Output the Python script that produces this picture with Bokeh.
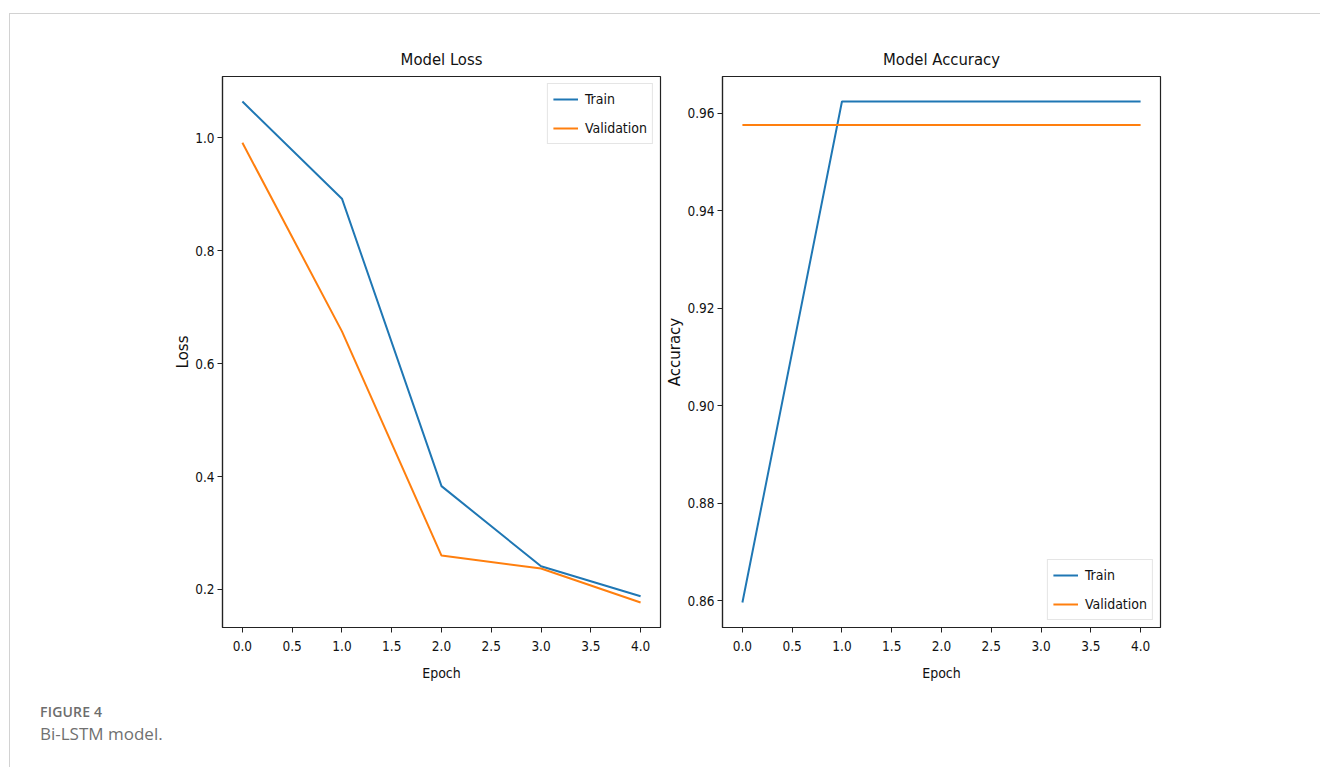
from bokeh.plotting import figure
from bokeh.layouts import row, column
from bokeh.models import Div, Spacer, FixedTicker, NumeralTickFormatter, Legend, LegendItem, Range1d
from bokeh.embed import file_html
from bokeh.resources import INLINE

# ---------------- data ----------------
epochs = [0, 1, 2, 3, 4]
train_loss = [1.064, 0.892, 0.383, 0.241, 0.188]
val_loss = [0.991, 0.657, 0.260, 0.237, 0.177]
train_acc = [0.8596, 0.9624, 0.9624, 0.9624, 0.9624]
val_acc = [0.9576, 0.9576, 0.9576, 0.9576, 0.9576]
x_ticks = [0.0, 0.5, 1.0, 1.5, 2.0, 2.5, 3.0, 3.5, 4.0]
loss_ticks = [0.2, 0.4, 0.6, 0.8, 1.0]
acc_ticks = [0.86, 0.88, 0.90, 0.92, 0.94, 0.96]
series_names = ["Train", "Validation"]
titles = ["Model Loss", "Model Accuracy"]
y_labels = ["Loss", "Accuracy"]
x_label = "Epoch"
caption_head = "FIGURE 4"
caption_text = "Bi-LSTM model."

COND = "'DejaVu Sans Condensed', 'DejaVu Sans'"
BLUE = "#1f77b4"
ORANGE = "#ff7f0e"


def auto_range(vals, margin=0.05):
    lo, hi = min(vals), max(vals)
    d = (hi - lo) * margin
    return Range1d(lo - d, hi + d)


def make_plot(title, ylab, ys, yticks, yfmt, legend_loc, border_left, border_right, ylab_standoff):
    p = figure(frame_width=438, frame_height=551, output_backend="svg",
               toolbar_location=None, title=title,
               x_range=auto_range(epochs), y_range=auto_range(ys[0] + ys[1]),
               min_border_left=border_left, min_border_right=border_right,
               min_border_top=62, min_border_bottom=63)
    p.background_fill_color = "white"
    p.border_fill_color = "white"
    p.outline_line_color = "#222222"
    p.outline_line_width = 1.2
    p.grid.visible = False
    p.title.align = "center"
    p.title.text_font = COND
    p.title.text_font_size = "16.5px"
    p.title.text_font_style = "normal"
    p.title.text_color = "#111111"
    p.title.standoff = 16

    for ax in (p.xaxis[0], p.yaxis[0]):
        ax.axis_line_color = "#222222"
        ax.axis_line_width = 1.2
        ax.major_tick_line_color = "#222222"
        ax.major_tick_out = 5
        ax.major_tick_in = 0
        ax.minor_tick_line_color = None
        ax.major_label_text_font = COND
        ax.major_label_text_font_size = "13.5px"
        ax.major_label_text_color = "#111111"
        ax.axis_label_text_font_style = "normal"
        ax.axis_label_text_color = "#111111"

    p.xaxis.ticker = FixedTicker(ticks=x_ticks)
    p.xaxis.formatter = NumeralTickFormatter(format="0.0")
    p.xaxis.major_label_standoff = 8
    p.xaxis.axis_label = x_label
    p.xaxis.axis_label_text_font = COND
    p.xaxis.axis_label_text_font_size = "14px"
    p.xaxis.axis_label_standoff = 11

    p.yaxis.ticker = FixedTicker(ticks=yticks)
    p.yaxis.formatter = NumeralTickFormatter(format=yfmt)
    p.yaxis.major_label_standoff = 3
    p.yaxis.axis_label = ylab
    p.yaxis.axis_label_text_font = "DejaVu Sans"
    p.yaxis.axis_label_text_font_size = "15px"
    p.yaxis.axis_label_standoff = ylab_standoff

    r1 = p.line(epochs, ys[0], line_color=BLUE, line_width=2)
    r2 = p.line(epochs, ys[1], line_color=ORANGE, line_width=2)

    leg = Legend(items=[LegendItem(label=series_names[0], renderers=[r1]),
                        LegendItem(label=series_names[1], renderers=[r2])],
                 location=legend_loc)
    leg.label_text_font = COND
    leg.label_text_font_size = "14px"
    leg.label_text_color = "#111111"
    leg.glyph_width = 25
    leg.glyph_height = 20
    leg.label_standoff = 7
    leg.spacing = 9
    leg.padding = 5
    leg.margin = 7
    leg.border_line_color = "#cccccc"
    leg.border_line_width = 1
    leg.background_fill_alpha = 0.85
    p.add_layout(leg)
    return p


p1 = make_plot(titles[0], y_labels[0], [train_loss, val_loss], loss_ticks, "0.0",
               "top_right", 212, 3, 0)
p2 = make_plot(titles[1], y_labels[1], [train_acc, val_acc], acc_ticks, "0.00",
               "bottom_right", 40, 150, 0)

cap = Div(text=(
    "<div style=\"padding-left:25px;font-family:'Open Sans',sans-serif;\">"
    "<div style='font-size:14px;font-weight:600;color:#6d6d6d;letter-spacing:0.2px;line-height:18px;padding-top:8px'>"
    + caption_head + "</div>"
    "<div style='font-size:17px;color:#707070;line-height:24px;padding-top:1px'>" + caption_text + "</div></div>"),
    width=1300, height=76)

inner = column(row(p1, p2), cap,
               styles={"border-top": "1px solid #d2d2d2", "border-left": "1px solid #d2d2d2"})
page = column(Spacer(height=13), row(Spacer(width=9), inner))

open("out.html", "w").write(file_html(page, INLINE))
